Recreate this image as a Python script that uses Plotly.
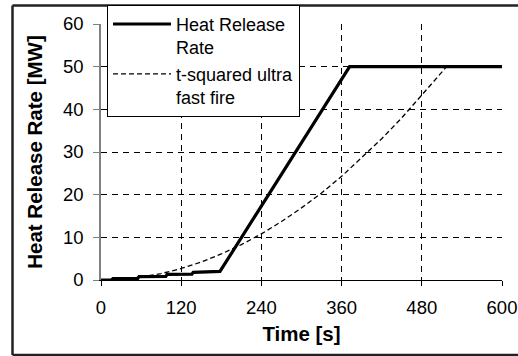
import plotly.graph_objects as go

# Heat Release Rate (solid, step-like growth then linear ramp to 50 MW)
hrr_time = [0, 16, 18, 55, 57, 97, 99, 136, 138, 178, 372, 600]
hrr_mw = [0.0, 0.05, 0.3, 0.35, 0.8, 0.85, 1.3, 1.35, 1.8, 2.0, 50.0, 50.0]

# t-squared ultra fast fire (dashed)
t2_time = [0, 30, 60, 90, 120, 150, 180, 210, 240, 270, 300, 330, 360, 390, 420, 450, 480, 500, 520]
t2_mw = [0.0, 0.2, 0.7, 1.5, 2.7, 4.2, 6.1, 8.3, 10.8, 13.7, 16.9, 20.4, 24.3, 28.6, 33.1, 38.0, 43.3, 47.0, 50.5]

x_ticks = [0, 120, 240, 360, 480, 600]
y_ticks = [0, 10, 20, 30, 40, 50, 60]

FONT = "Liberation Sans, Arial, sans-serif"

fig = go.Figure()
fig.add_trace(go.Scatter(x=hrr_time, y=hrr_mw, mode="lines",
                         name="Heat Release<br>Rate",
                         line=dict(color="black", width=3.2)))
fig.add_trace(go.Scatter(x=t2_time, y=t2_mw, mode="lines",
                         name="t-squared ultra<br>fast fire",
                         line=dict(color="black", width=1.3, dash="5px,3px")))

fig.update_layout(
    width=518, height=356,
    margin=dict(l=101, r=16, t=24, b=76, autoexpand=False),
    paper_bgcolor="white", plot_bgcolor="white",
    font=dict(family=FONT, color="black", size=18),
    showlegend=True,
    legend=dict(x=0.015, y=1.075, xanchor="left", yanchor="top",
                bgcolor="white", bordercolor="black", borderwidth=1,
                font=dict(size=18, family=FONT), itemwidth=58, valign="top",
                tracegroupgap=0),
    xaxis=dict(range=[0, 600], tickvals=x_ticks, ticktext=[str(v) for v in x_ticks],
               showgrid=True, gridcolor="black", griddash="6px,5px", gridwidth=1,
               zeroline=False, showline=True, linecolor="black", linewidth=1,
               ticks="outside", ticklen=5, tickcolor="black", automargin=False,
               tickfont=dict(size=18.5), ticklabelstandoff=6,
               title=dict(text="<b>Time [s]</b>", font=dict(size=20.5), standoff=9)),
    yaxis=dict(range=[0, 60], tickvals=y_ticks, ticktext=[str(v) for v in y_ticks],
               showgrid=True, gridcolor="black", griddash="6px,5px", gridwidth=1,
               zeroline=False, showline=True, linecolor="#808080", linewidth=1.5,
               ticks="outside", ticklen=6, tickcolor="#808080", automargin=False,
               tickfont=dict(size=18.5), ticklabelstandoff=6,
               title=dict(text="<b>Heat Release Rate [MW]</b>", font=dict(size=20.5), standoff=15)),
    shapes=[
        dict(type="line", xref="paper", yref="paper", x0=-0.2207, x1=1.06, y0=1.0723, y1=1.0723,
             line=dict(color="#222", width=2.5)),
        dict(type="line", xref="paper", yref="paper", x0=-0.2207, x1=-0.2207, y0=-0.293, y1=1.0723,
             line=dict(color="#222", width=2.5)),
        dict(type="line", xref="paper", yref="paper", x0=-0.2207, x1=1.06, y0=-0.293, y1=-0.293,
             line=dict(color="#222", width=2.5)),
    ],
)

fig.write_html("out.html")
